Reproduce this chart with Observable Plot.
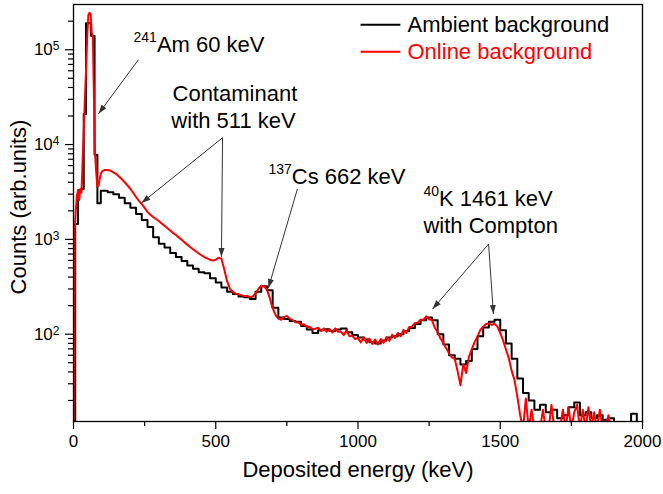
<!DOCTYPE html>
<html><head><meta charset="utf-8">
<script src="https://cdn.jsdelivr.net/npm/d3@7"></script>
<script src="https://cdn.jsdelivr.net/npm/@observablehq/plot@0.6"></script>
<style>
body{margin:0;background:#fff;}
#chart{width:663px;height:494px;}
</style>
</head><body><div id="chart"></div>
<script>
// ---- Data ----
const seriesNames = ["Ambient background", "Online background"];

// Ambient background (black, step histogram)
const ambientEnergy = [
  0, 6, 16, 26, 36, 44, 62, 74, 84, 96,
  120, 140, 160, 180, 200, 220, 240, 260, 280, 300,
  320, 340, 360, 380, 400, 420, 440, 460, 480, 500,
  520, 540, 560, 580, 600, 620, 640, 660, 680, 700,
  720, 740, 760, 780, 800, 820, 840, 860, 880, 900,
  920, 940, 960, 980, 1000, 1020, 1040, 1060, 1080, 1100,
  1120, 1140, 1160, 1180, 1200, 1220, 1240, 1260, 1280, 1300,
  1320, 1340, 1360, 1380, 1400, 1420, 1440, 1460, 1480, 1500,
  1520, 1540, 1560, 1580, 1600, 1620, 1640, 1660, 1680, 1700,
  1720, 1740, 1760, 1780, 1800, 1820, 1840, 1860, 1880, 1900,
  1920, 1940, 1960, 1980, 2000
];
const ambientCounts = [
  10, 1450, 3300, 3400, 21000, 190000, 140000, 7800, 2400, 3250,
  3150, 3000, 2750, 2400, 2150, 1850, 1600, 1350, 1050, 900,
  820, 720, 650, 590, 530, 490, 450, 440, 390, 350,
  310, 280, 265, 250, 245, 235, 280, 320, 290, 190,
  150, 145, 138, 135, 122, 112, 103, 110, 113, 108,
  112, 115, 105, 98, 92, 88, 82, 80, 86, 92,
  95, 100, 108, 116, 128, 140, 150, 140, 100, 78,
  60, 55, 48, 52, 70, 95, 118, 135, 142, 110,
  80, 55, 34, 24, 20, 16, 18, 15, 16, 13,
  14, 17, 19, 14, 15, 13, 14, 12.5, 13, 10,
  11, 10, 14.5, 10, 10
];

// Online background (red)
const onlineEnergy = [
  0, 2, 4, 8, 12, 16, 20, 24, 28, 32,
  36, 40, 44, 48, 52, 56, 60, 64, 68, 72,
  75, 80, 84, 88, 92, 96, 100,
  110, 120, 130, 140, 150, 160, 170, 180, 190, 200,
  210, 220, 230, 240, 250, 260, 270, 280, 290, 300,
  310, 320, 330, 340, 350, 360, 370, 380, 390, 400,
  410, 420, 430, 440, 450, 460, 470, 480, 490, 500,
  510, 520, 530, 540, 550, 560, 570, 580, 590, 600,
  610, 620, 630, 640, 650, 660, 670, 680, 690, 700,
  710, 720, 730, 740, 750, 760, 770, 780, 790, 800,
  810, 820, 830, 840, 850, 860, 870, 880, 890, 900,
  910, 920, 930, 940, 950, 960, 970, 980, 990, 1000,
  1010, 1020, 1030, 1040, 1050, 1060, 1070, 1080, 1090, 1100,
  1110, 1120, 1130, 1140, 1150, 1160, 1170, 1180, 1190, 1200,
  1210, 1220, 1230, 1240, 1250, 1260, 1270, 1280, 1290, 1300,
  1310, 1320, 1330, 1340, 1350, 1360, 1370, 1380, 1390, 1400,
  1410, 1420, 1430, 1440, 1450, 1460, 1470, 1480, 1490, 1500,
  1510, 1520, 1530, 1540, 1550, 1560, 1570, 1580, 1590, 1600,
  1610, 1620, 1630, 1640, 1650, 1660, 1670, 1680, 1690, 1700,
  1710, 1720, 1730, 1740, 1750, 1760, 1770, 1780, 1790, 1800,
  1810, 1820, 1830, 1840, 1850, 1860, 1870, 1880, 1890, 1900
];
const onlineCounts = [
  10, 60, 1200, 2000, 2900, 3300, 2600, 3400, 3100, 6700,
  14000, 30000, 60000, 130000, 230000, 245000, 240000, 150000, 140000, 30000,
  8500, 5000, 3600, 3700, 4300, 4900, 5200,
  5400, 5400, 5300, 5100, 4900, 4600, 4300, 4000, 3700, 3400,
  3100, 2800, 2550, 2350, 2150, 1950, 1820, 1720, 1640, 1560,
  1470, 1390, 1310, 1240, 1170, 1110, 1050, 990, 930, 880,
  830, 790, 750, 710, 680, 650, 630, 610, 600, 610,
  640, 625, 480, 360, 300, 280, 268, 262, 258, 252,
  255, 245, 250, 270, 300, 325, 318, 295, 240, 188,
  160, 146, 142, 152, 156, 146, 141, 134, 133, 126,
  127, 119, 120, 113, 114, 117, 108, 115, 106, 113,
  104, 115, 106, 106, 98, 110, 95, 96, 89, 91,
  82, 93, 81, 90, 79, 88, 78, 89, 81, 93,
  85, 99, 91, 103, 95, 111, 103, 119, 120, 131,
  132, 142, 142, 154, 144, 141, 117, 105, 90, 81,
  71, 63, 57, 55, 41, 29, 48, 39, 58, 69,
  83, 94, 111, 120, 128, 130, 125, 129, 120, 103,
  86, 69, 56, 41, 33, 22, 14, 10, 21, 10,
  16, 10, 10, 10, 16, 10, 10, 18, 10, 10,
  10, 16, 10, 17, 10, 15, 18, 10, 16, 10,
  17, 10, 15, 10, 16, 10, 10, 14, 10, 10
];

// Axis ticks and labels
const xTicks = [0, 500, 1000, 1500, 2000];
const xTickLabels = ["0", "500", "1000", "1500", "2000"];
const xMinorTicks = [250, 750, 1250, 1750];
const yTicks = [100, 1000, 10000, 100000];
const yTickLabels = ["10^{2}", "10^{3}", "10^{4}", "10^{5}"];
const yMinorTicks = [20, 30, 40, 50, 60, 70, 80, 90,
  200, 300, 400, 500, 600, 700, 800, 900,
  2000, 3000, 4000, 5000, 6000, 7000, 8000, 9000,
  20000, 30000, 40000, 50000, 60000, 70000, 80000, 90000, 200000];
const xLabel = "Deposited energy (keV)";
const yLabel = "Counts (arb.units)";

// Annotations (anchored in data space: energy keV, counts)
const annotationText = ["^{241}Am 60 keV", "Contaminant", "with 511 keV", "^{137}Cs 662 keV", "^{40}K 1461 keV", "with Compton"];
const annotationEnergy = [211, 348, 344, 685, 1230, 1230];
const annotationCounts = [95300, 28900, 15000, 3850, 2250, 1170];
// Arrows: from (energy1, counts1) to (energy2, counts2)
const arrowEnergy1 = [228, 524, 524, 787, 1459, 1459];
const arrowCounts1 = [78300, 11800, 11800, 3400, 893, 893];
const arrowEnergy2 = [88, 239, 520, 685, 1262, 1476];
const arrowCounts2 = [21100, 2420, 652, 307, 184, 163];
// Legend placement (data space)
const legendLineEnergy = [1009, 1149];
const legendTextEnergy = 1174;
const legendCounts = [183700, 95200];

// ---- Build tables ----
const ambient = ambientEnergy.map((e, i) => ({energy: e, counts: ambientCounts[i]}));
const online = onlineEnergy.map((e, i) => ({energy: e, counts: onlineCounts[i]}));
const annotations = annotationText.map((t, i) => ({text: t, energy: annotationEnergy[i], counts: annotationCounts[i]}));
const arrows = arrowEnergy1.map((e, i) => ({x1: e, y1: arrowCounts1[i], x2: arrowEnergy2[i], y2: arrowCounts2[i]}));
const colors = ["#000000", "#ff0000"];
const legend = seriesNames.map((n, i) => ({name: n, color: colors[i], counts: legendCounts[i],
  x1: legendLineEnergy[0], x2: legendLineEnergy[1], tx: legendTextEnergy}));

const FONT = "'Liberation Sans', Arial, Helvetica, sans-serif";

const chart = Plot.plot({
  width: 663,
  height: 494,
  marginLeft: 73,
  marginRight: 21,
  marginTop: 4,
  marginBottom: 73,
  style: {fontFamily: FONT, background: "#fff", color: "#000"},
  x: {domain: [0, 2000]},
  y: {type: "log", domain: [12, 300000]},
  marks: [
    Plot.axisX(xMinorTicks, {tickSize: 5, tickFormat: () => "", label: null, strokeWidth: 1.2}),
    Plot.axisX(xTicks, {tickSize: 8, tickPadding: 5, fontSize: 17, label: null, strokeWidth: 1.2,
      tickFormat: d => xTickLabels[xTicks.indexOf(d)]}),
    Plot.axisY(yMinorTicks, {tickSize: 5, tickFormat: () => "", label: null, strokeWidth: 1.2}),
    Plot.axisY(yTicks, {tickSize: 8, tickPadding: 6, fontSize: 17, label: null, strokeWidth: 1.2,
      tickFormat: d => yTickLabels[yTicks.indexOf(d)]}),
    Plot.line(ambient, {x: "energy", y: "counts", curve: "step-after", stroke: colors[0], strokeWidth: 2, clip: true}),
    Plot.line(online, {x: "energy", y: "counts", curve: "linear", stroke: colors[1], strokeWidth: 2, clip: true}),
    Plot.frame({stroke: "#000", strokeWidth: 1.3}),
    Plot.link(arrows, {x1: "x1", y1: "y1", x2: "x2", y2: "y2", stroke: "#333", strokeWidth: 1, markerEnd: "arrow"}),
    Plot.text(annotations, {x: "energy", y: "counts", text: "text", textAnchor: "start", lineAnchor: "bottom",
      fontSize: 22, fill: "#000"}),
    Plot.link(legend, {x1: "x1", x2: "x2", y1: "counts", y2: "counts", stroke: "color", strokeWidth: 2}),
    Plot.text(legend, {x: "tx", y: "counts", text: "name", fill: "color", textAnchor: "start", fontSize: 22}),
    Plot.text([yLabel], {frameAnchor: "left", dx: -55, dy: -6, rotate: -90, textAnchor: "middle", lineAnchor: "middle",
      fontSize: 22, fill: "#000"}),
    Plot.text([xLabel], {frameAnchor: "bottom", dy: 48, textAnchor: "middle", lineAnchor: "middle", fontSize: 22, fill: "#000"})
  ]
});

document.getElementById("chart").appendChild(chart);

// ---- Superscripts ----
function applySuperscripts(textEl, supSize, supDy) {
  const s = textEl.textContent;
  if (!s.includes("^{")) return;
  textEl.textContent = "";
  const ns = "http://www.w3.org/2000/svg";
  const re = /\^\{([^}]*)\}/g;
  let last = 0, m, pending = 0;
  const add = (str, size, dy) => {
    const t = document.createElementNS(ns, "tspan");
    if (size) t.setAttribute("font-size", size);
    if (dy) t.setAttribute("dy", dy);
    t.textContent = str;
    textEl.appendChild(t);
  };
  while ((m = re.exec(s))) {
    if (m.index > last) { add(s.slice(last, m.index), null, pending); pending = 0; }
    add(m[1], supSize, supDy + pending);
    pending = -supDy;
    last = re.lastIndex;
  }
  if (last < s.length) add(s.slice(last), null, pending);
}
chart.querySelectorAll('g[aria-label="y-axis tick label"] text').forEach(t => applySuperscripts(t, 12, -5));
chart.querySelectorAll('g[aria-label="text"] text').forEach(t => applySuperscripts(t, 14, -10));

// ---- Filled arrowheads ----
chart.querySelectorAll("marker").forEach(mk => {
  const color = mk.getAttribute("stroke") || "#333";
  mk.setAttribute("viewBox", "-10 -5 12 10");
  mk.setAttribute("markerWidth", 12);
  mk.setAttribute("markerHeight", 10);
  mk.setAttribute("markerUnits", "userSpaceOnUse");
  mk.setAttribute("fill", color);
  mk.setAttribute("stroke", "none");
  mk.innerHTML = "";
  const p = document.createElementNS("http://www.w3.org/2000/svg", "path");
  p.setAttribute("d", "M-9,-3L0,0L-9,3Z");
  mk.appendChild(p);
});
</script>
</body></html>
